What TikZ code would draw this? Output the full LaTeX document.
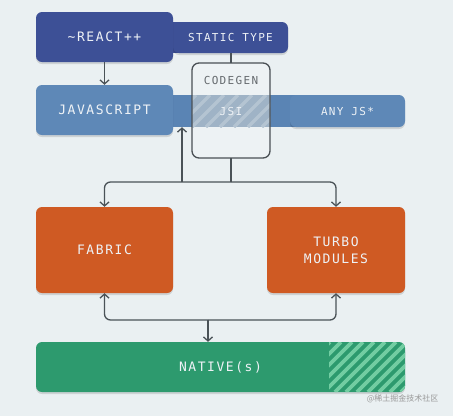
\documentclass[tikz,border=0pt]{standalone}
\usepackage{fontspec}
\usetikzlibrary{arrows.meta,shadows}
\newfontfamily\monof[LetterSpace=12]{DejaVu Sans Mono}
\newfontfamily\cjkf{Noto Sans CJK SC}
\definecolor{bgc}{HTML}{EAF0F2}
\definecolor{reactc}{HTML}{3D5096}
\definecolor{jsc}{HTML}{5E88B7}
\definecolor{jsbarc}{HTML}{5A84B4}
\definecolor{cgfill}{HTML}{EDF2F4}
\definecolor{cgline}{HTML}{4A5055}
\definecolor{jsic}{HTML}{9FB3C6}
\definecolor{jsis}{HTML}{B4C4D2}
\definecolor{orangec}{HTML}{CF5A23}
\definecolor{greenc}{HTML}{2D9A6E}
\definecolor{greens}{HTML}{72CDA2}
\definecolor{linec}{HTML}{4A5257}
\definecolor{txtc}{HTML}{EEF2F6}
\begin{document}
\begin{tikzpicture}[x=1pt,y=-1pt,
  boxsty/.style={rounded corners=6, inner sep=0, align=center, text=txtc,
    font=\monof\fontsize{13}{17}\selectfont,
    drop shadow={shadow xshift=0pt, shadow yshift=-2pt, opacity=0.12, fill=black}},
  smallsty/.style={boxsty, font=\monof\fontsize{11}{14}\selectfont},
  arr/.style={draw=linec, line width=1.3, -{Straight Barb[length=4,width=9,line width=1.3]}},
  conn/.style={draw=linec, line width=1.3}]
\fill[bgc] (0,0) rectangle (453,416);
\useasboundingbox (0,0) rectangle (453,416);

% STATIC TYPE tab
\fill[reactc] (160,22) rectangle (185,53);
\node[smallsty, fill=reactc, minimum width=115, minimum height=31, drop shadow={opacity=0}] (static) at (230.5,37.5) {STATIC TYPE};
% REACT
\node[boxsty, fill=reactc, minimum width=137, minimum height=50] (react) at (104.5,37) {\textasciitilde REACT++};

% JS bar
\node[fill=jsbarc, minimum width=140, minimum height=32, inner sep=0] (jsbar) at (230,111) {};
\node[smallsty, fill=jsc, minimum width=115, minimum height=32] (anyjs) at (347.5,111) {ANY JS*};
\node[boxsty, fill=jsc, minimum width=137, minimum height=50] (js) at (104.5,110) {JAVASCRIPT};

% CODEGEN box
\node[fill=cgfill, rounded corners=7, minimum width=78, minimum height=95, inner sep=0] (codegen) at (231,110.5) {};
\fill[jsic] (192,95) rectangle (270,127);
\begin{scope}
  \clip (192,95) rectangle (270,127);
  \foreach \i in {150,164,...,290}
    \draw[jsis, line width=3.5] (\i,127) -- (\i+32,95);
\end{scope}
\draw[cgline, line width=1.3, rounded corners=7] (192,63) rectangle (270,158);
\node[font=\monof\fontsize{11}{14}\selectfont, text=cgline!85] (cgtxt) at (231,80) {CODEGEN};
\node[font=\monof\fontsize{11}{14}\selectfont, text=txtc] (jsi) at (231,111.5) {JSI};

% FABRIC / TURBO
\node[boxsty, fill=orangec, minimum width=137, minimum height=86] (fabric) at (104.5,250) {FABRIC};
\node[boxsty, fill=orangec, minimum width=138, minimum height=86] (turbo) at (336,250) {TURBO\\MODULES};

% NATIVE
\node[boxsty, fill=greenc, minimum width=369, minimum height=50] (native) at (220.5,367) {};
\begin{scope}
  \clip[rounded corners=6] (36,342) rectangle (405,392);
  \clip (329,342) rectangle (405,392);
  \foreach \i in {280,291,...,420}
    \draw[greens, line width=3.8] (\i,392) -- (\i+50,342);
\end{scope}
\node[font=\monof\fontsize{13}{17}\selectfont, text=txtc] (nattxt) at (220.5,367) {NATIVE(s)};

% connectors
\coordinate (top) at (231,182);
\coordinate (jsup) at (182,182);
\coordinate (bot) at (208,320);
\draw[arr] (react.south) -- (js.north);
\draw[conn] (static.south -| codegen.north) -- (codegen.north);
\draw[conn] (codegen.south) -- (top);
\draw[arr, rounded corners=6] (top) -| (fabric.north);
\draw[arr, rounded corners=6] (top) -| (turbo.north);
\draw[arr] (jsup) -- (jsup |- jsbar.south);
\draw[arr, rounded corners=6] (bot) -| (fabric.south);
\draw[arr, rounded corners=6] (bot) -| (turbo.south);
\draw[arr] (bot) -- (bot |- native.north);

% watermark
\node[anchor=east, font=\cjkf\fontsize{8}{10}\selectfont, text=black!40] (wm) at (442,399) {@稀土掘金技术社区};
\end{tikzpicture}
\end{document}
